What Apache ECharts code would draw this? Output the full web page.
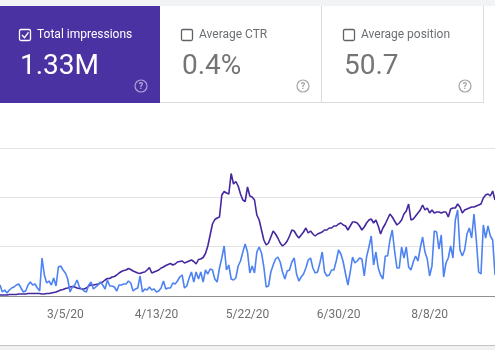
<!DOCTYPE html>
<html>
<head>
<meta charset="utf-8">
<script src="https://cdn.jsdelivr.net/npm/echarts@6/dist/echarts.min.js"></script>
<style>
  html, body { margin: 0; padding: 0; background: #fff; }
  #chart { width: 495px; height: 350px; }
</style>
</head>
<body>
<div id="chart"></div>
<script>
// daily values (axis units, gridlines every 148/3)
var impressions = [
  1, 1, 1, 1, 1.5, 1.5, 1.5, 1.5, 2, 2, 2, 2, 2.5, 2.5, 2.5, 2.5, 2.5, 2.5, 2, 2,
  2.5, 2.5, 3, 3.5, 4, 5, 6, 6.5, 7.5, 8, 9, 9.5, 9, 8, 7.5, 7, 7, 8, 10, 11,
  11, 11.5, 12, 13, 14, 16, 17.5, 17.5, 19, 19.5, 21, 23, 24.5, 25.5, 26, 27.5, 26.5, 25, 24, 23,
  22.5, 23.5, 24, 26, 28.5, 23, 24, 25, 26, 28, 29, 30.5, 31.5, 32.5, 31, 32, 34, 34.5, 35, 33,
  34, 35, 36, 34.5, 32, 36.5, 37, 38.5, 42.5, 50, 61, 72, 76.5, 78, 79, 101, 104.5, 103, 102, 122.5,
  112, 114.5, 110, 102, 96, 94.5, 109, 100, 99, 96, 81, 76, 66, 56, 51, 53, 59, 65, 62, 58,
  53, 50, 52, 55, 60, 66, 65, 61, 58, 61, 64, 68, 63, 65, 62, 60, 62, 63, 64, 66,
  66, 68, 68, 70, 70, 72, 73, 71, 70, 66, 70, 74, 74, 73, 70, 66, 69, 73, 76, 77,
  73, 76, 70, 62, 68, 72, 77, 82, 79, 75, 71, 73, 76, 82, 85, 92, 76, 77, 80, 83,
  86, 91, 86, 88, 83, 86, 83, 84, 84, 83, 84, 84, 79, 87, 88, 88, 92, 89, 83, 86,
  87, 88, 89, 89, 90, 91, 92, 98, 101, 102, 100, 105, 96
];
var compare = [
  11, 4, 6, 3, 6, 8, 9, 11, 12, 8, 4, 5, 11, 14, 11, 12, 8, 5, 38, 21,
  13, 15, 11, 18, 10, 29, 30, 26, 23, 17, 4, 9, 11, 16, 9, 7, 5, 4, 11, 14,
  7, 9, 11, 14, 11, 7, 16, 10, 10, 9, 5, 11, 11, 12, 12, 15, 13, 5, 7, 8,
  20, 4, 7, 6, 9, 6, 7, 4, 5, 8, 15, 7, 8, 8, 13, 12, 15, 19, 21, 8,
  10, 18, 24, 14, 24, 17, 24, 14, 26, 22, 27, 26, 17, 14, 28, 38, 50, 26, 31, 17,
  16, 18, 30, 35, 44, 52, 44, 23, 30, 23, 44, 49, 43, 29, 9, 10, 24, 31, 37, 39,
  34, 24, 17, 25, 26, 34, 38, 22, 15, 19, 22, 28, 36, 38, 28, 23, 24, 33, 44, 24,
  20, 21, 26, 26, 35, 46, 42, 34, 22, 11, 24, 39, 33, 35, 38, 37, 20, 39, 49, 60,
  31, 44, 28, 21, 17, 40, 40, 56, 66, 45, 28, 28, 49, 38, 49, 29, 26, 34, 40, 35,
  48, 59, 44, 37, 20, 30, 65, 64, 47, 61, 19, 33, 38, 50, 38, 76, 86, 46, 40, 46,
  62, 68, 58, 82, 56, 24, 22, 71, 58, 70, 60, 56, 21
];
var tickLabels = ['3/5/20', '4/13/20', '5/22/20', '6/30/20', '8/8/20'];

var days = [];
for (var i = 0; i < impressions.length; i++) {
    var d = new Date(2020, 1, 6 + i);
    days.push((d.getMonth() + 1) + '/' + d.getDate() + '/' + String(d.getFullYear()).slice(2));
}

var FONT = 'Roboto, "Noto Sans", sans-serif';

// x: left edge of card content frame (first card is cut off on the left)
function card(x, w, selected, label, value) {
    var fg = selected ? '#fff' : '#6b6f73';
    var help = x + 143;
    var els = [
        { type: 'rect', shape: { x: Math.max(x, 0), y: 6, width: w, height: 97 },
          style: { fill: selected ? '#4b32a2' : '#fff' } },
        { type: 'rect', shape: { x: x + 21.5, y: 29.5, width: 11, height: 11, r: 1.5 },
          style: { fill: 'none', stroke: selected ? '#fff' : '#5f6368', lineWidth: 1.3 } },
        { type: 'text', x: x + 39, y: 35,
          style: { text: label, fill: fg, font: '12px ' + FONT, textVerticalAlign: 'middle' } },
        { type: 'text', x: x + 22, y: 67,
          style: { text: value, fill: selected ? '#fff' : '#757575', font: '28px ' + FONT,
                   textVerticalAlign: 'middle' } },
        { type: 'circle', shape: { cx: help, cy: 86, r: 6 },
          style: { fill: 'none', stroke: selected ? 'rgba(255,255,255,0.55)' : '#a0a4a8', lineWidth: 1.2 } },
        { type: 'text', x: help, y: 86.5,
          style: { text: '?', fill: selected ? 'rgba(255,255,255,0.6)' : '#a0a4a8',
                   font: 'bold 9px ' + FONT, textAlign: 'center', textVerticalAlign: 'middle' } }
    ];
    if (selected) {
        els.push({ type: 'polyline', shape: { points: [[x + 24, 35], [x + 26.5, 37.7], [x + 30.5, 32.4]] },
                   style: { fill: 'none', stroke: '#fff', lineWidth: 1.4 } });
    }
    return els;
}

var graphics = [
    { type: 'rect', shape: { x: 0, y: 0, width: 495, height: 6 }, style: { fill: '#f1f3f4' } }
]
    .concat(card(-2, 160, true, 'Total impressions', '1.33M'))
    .concat(card(160, 161, false, 'Average CTR', '0.4%'))
    .concat(card(322, 161, false, 'Average position', '50.7'))
    .concat([
        { type: 'line', shape: { x1: 160, y1: 102.5, x2: 483.5, y2: 102.5 }, style: { stroke: '#dadce0', lineWidth: 1 } },
        { type: 'line', shape: { x1: 321.5, y1: 6, x2: 321.5, y2: 103 }, style: { stroke: '#dadce0', lineWidth: 1 } },
        { type: 'line', shape: { x1: 483.5, y1: 6, x2: 483.5, y2: 103 }, style: { stroke: '#dadce0', lineWidth: 1 } },
        { type: 'line', shape: { x1: 0, y1: 345.5, x2: 495, y2: 345.5 }, style: { stroke: '#c4c4c4', lineWidth: 1 } },
        { type: 'rect', shape: { x: 0, y: 346, width: 495, height: 4 }, style: { fill: '#f1f1f1' } }
    ]);

var option = {
    animation: false,
    backgroundColor: '#fff',
    graphic: graphics,
    grid: { left: 0, right: 0, top: 148, bottom: 54 },
    xAxis: {
        type: 'category',
        boundaryGap: false,
        data: days,
        axisLine: { lineStyle: { color: '#8f8f8f', width: 1 } },
        axisTick: { show: false },
        axisLabel: {
            interval: function (idx, val) { return tickLabels.indexOf(val) >= 0; },
            color: '#6f6f6f',
            fontFamily: FONT,
            fontSize: 12,
            margin: 13
        },
        splitLine: { show: false }
    },
    yAxis: {
        type: 'value',
        min: 0,
        max: 148,
        interval: 148 / 3,
        axisLine: { show: false },
        axisTick: { show: false },
        axisLabel: { show: false },
        splitLine: { lineStyle: { color: '#e3e3e3', width: 1 } }
    },
    series: [{
        type: 'line',
        data: impressions,
        symbol: 'none',
        lineStyle: { color: '#4527a0', width: 1.6 }
    }, {
        type: 'line',
        data: compare,
        symbol: 'none',
        lineStyle: { color: '#4d82f3', width: 1.6 }
    }]
};

var chart = echarts.init(document.getElementById('chart'));
chart.setOption(option);
</script>
</body>
</html>
